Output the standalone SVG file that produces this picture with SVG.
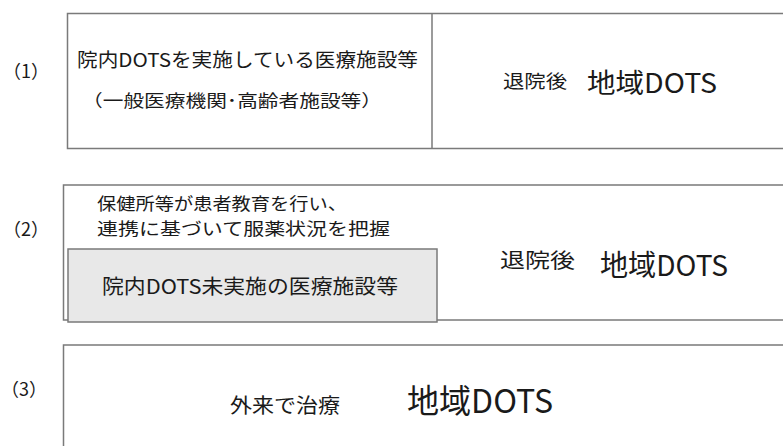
<svg xmlns="http://www.w3.org/2000/svg" width="783" height="446" viewBox="0 0 783 446">
<style>
text{font-family:"Noto Sans CJK JP","Noto Sans",sans-serif;fill:#1a1a1a}
.box{fill:#fff;stroke:#7a7a7a;stroke-width:1.5}
.inner{fill:#e8e8e8;stroke:#7a7a7a;stroke-width:1.5}
.lbl{font-size:18px}
</style>
<rect width="783" height="446" fill="#fff"/>
<g id="row1">
<text class="lbl" x="3" y="78">（1）</text>
<rect class="box" x="67.5" y="13.5" width="730" height="135"/>
<line x1="432" y1="13.5" x2="432" y2="148.5" stroke="#7a7a7a" stroke-width="1.5"/>
<g id="node1a">
<text x="77" y="67" font-size="19" textLength="341" lengthAdjust="spacingAndGlyphs">院内DOTSを実施している医療施設等</text>
<text x="82" y="107" font-size="17" textLength="300" lengthAdjust="spacingAndGlyphs">（一般医療機関･高齢者施設等）</text>
</g>
<g id="node1b">
<text x="503" y="88" font-size="18" textLength="64" lengthAdjust="spacingAndGlyphs">退院後</text>
<text x="587" y="93" font-size="27" textLength="130" lengthAdjust="spacingAndGlyphs">地域DOTS</text>
</g>
</g>
<g id="row2">
<text class="lbl" x="3" y="236">（2）</text>
<rect class="box" x="63.5" y="185" width="730" height="135"/>
<g id="node2a">
<text x="97" y="210" font-size="17" textLength="250" lengthAdjust="spacingAndGlyphs">保健所等が患者教育を行い、</text>
<text x="97" y="235" font-size="17" textLength="293" lengthAdjust="spacingAndGlyphs">連携に基づいて服薬状況を把握</text>
</g>
<g id="node2b">
<rect class="inner" x="68" y="249" width="369" height="73"/>
<text x="102" y="294" font-size="20" textLength="296" lengthAdjust="spacingAndGlyphs">院内DOTS未実施の医療施設等</text>
</g>
<g id="node2c">
<text x="500" y="268" font-size="20" textLength="75" lengthAdjust="spacingAndGlyphs">退院後</text>
<text x="600" y="276" font-size="29" textLength="128" lengthAdjust="spacingAndGlyphs">地域DOTS</text>
</g>
</g>
<g id="row3">
<text class="lbl" x="1" y="396">（3）</text>
<rect class="box" x="63.5" y="345" width="730" height="120"/>
<g id="node3">
<text x="230" y="413" font-size="20" textLength="110" lengthAdjust="spacingAndGlyphs">外来で治療</text>
<text x="407" y="413" font-size="33" textLength="146" lengthAdjust="spacingAndGlyphs">地域DOTS</text>
</g>
</g>
<g id="connectors"></g>
</svg>
